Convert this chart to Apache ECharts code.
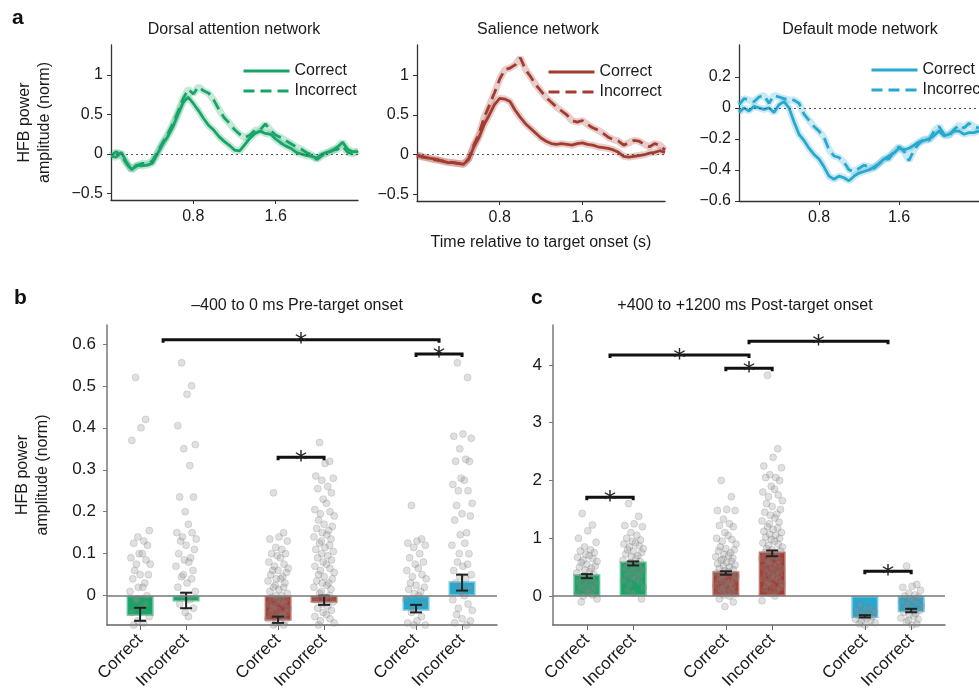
<!DOCTYPE html>
<html><head><meta charset="utf-8">
<script src="https://cdn.jsdelivr.net/npm/echarts@6/dist/echarts.min.js"></script>
<style>html,body{margin:0;padding:0;background:#fff}#c{width:979px;height:693px}</style>
</head><body><div id="c"></div><script>
// ---------- DATA ----------
const TIME = [0,0.05,0.1,0.15,0.2,0.25,0.3,0.35,0.4,0.45,0.5,0.55,0.6,0.65,0.7,0.75,0.8,0.85,0.9,0.95,1.0,1.05,1.1,1.15,1.2,1.25,1.3,1.35,1.4,1.45,1.5,1.55,1.6,1.65,1.7,1.75,1.8,1.85,1.9,1.95,2.0,2.05,2.1,2.15,2.2,2.25,2.3,2.35,2.4];
const DAN_CORRECT = [-0.03,-0.04,0.02,-0.10,-0.20,-0.14,-0.15,-0.14,-0.12,0.0,0.12,0.22,0.34,0.50,0.65,0.72,0.64,0.55,0.45,0.36,0.30,0.22,0.16,0.11,0.05,0.04,0.12,0.20,0.26,0.29,0.26,0.25,0.19,0.14,0.10,0.07,0.02,0.0,-0.02,-0.03,-0.05,0.0,0.02,0.04,0.09,0.15,0.06,0.03,0.03];
const DAN_INCORRECT = [-0.02,0.03,-0.02,-0.12,-0.20,-0.15,-0.12,-0.12,-0.09,0.02,0.14,0.25,0.38,0.53,0.70,0.82,0.76,0.85,0.80,0.77,0.68,0.56,0.46,0.39,0.31,0.25,0.21,0.24,0.30,0.31,0.38,0.30,0.24,0.21,0.17,0.13,0.09,0.06,0.02,-0.01,-0.07,-0.02,0.01,0.05,0.06,0.10,0.02,0.0,0.04];
const SAL_CORRECT = [0.0,-0.03,-0.04,-0.05,-0.06,-0.08,-0.10,-0.10,-0.11,-0.12,-0.06,0.10,0.22,0.38,0.50,0.63,0.71,0.70,0.67,0.56,0.47,0.39,0.33,0.27,0.21,0.17,0.14,0.13,0.14,0.13,0.12,0.14,0.15,0.13,0.12,0.10,0.09,0.08,0.06,0.03,-0.02,-0.03,-0.02,-0.01,0.0,0.02,0.03,0.05,0.03];
const SAL_INCORRECT = [-0.01,-0.02,-0.04,-0.06,-0.07,-0.08,-0.09,-0.10,-0.11,-0.12,-0.05,0.12,0.26,0.47,0.62,0.78,0.95,1.07,1.09,1.13,1.22,1.07,0.98,0.88,0.80,0.72,0.66,0.60,0.55,0.50,0.43,0.41,0.43,0.38,0.34,0.31,0.27,0.22,0.19,0.17,0.12,0.15,0.18,0.17,0.13,0.10,0.14,0.12,0.06];
const DMN_CORRECT = [-0.03,0.0,-0.02,0.01,0.0,-0.01,0.0,-0.03,0.02,0.04,0.0,-0.09,-0.17,-0.21,-0.26,-0.30,-0.33,-0.38,-0.44,-0.46,-0.44,-0.45,-0.47,-0.44,-0.42,-0.41,-0.40,-0.38,-0.36,-0.33,-0.31,-0.29,-0.26,-0.27,-0.26,-0.24,-0.22,-0.21,-0.20,-0.18,-0.15,-0.18,-0.17,-0.15,-0.15,-0.17,-0.16,-0.16,-0.15];
const DMN_INCORRECT = [0.02,0.06,0.05,0.04,0.07,0.08,0.03,0.08,0.07,0.06,0.05,0.05,0.03,-0.04,-0.08,-0.12,-0.15,-0.19,-0.27,-0.31,-0.32,-0.35,-0.40,-0.41,-0.39,-0.37,-0.38,-0.39,-0.36,-0.33,-0.33,-0.28,-0.25,-0.28,-0.34,-0.27,-0.23,-0.20,-0.21,-0.15,-0.12,-0.17,-0.18,-0.14,-0.11,-0.13,-0.10,-0.12,-0.13];

const TOP_TITLES = ['Dorsal attention network','Salience network','Default mode network'];
const CONDITIONS = ['Correct','Incorrect'];
const TOP_Y_TICKS = [[-0.5,0,0.5,1],[-0.5,0,0.5,1],[-0.6,-0.4,-0.2,0,0.2]];
const TOP_X_TICKS = [0.8,1.6];

const CATEGORY_LABELS = ['Correct','Incorrect','Correct','Incorrect','Correct','Incorrect'];
const CATEGORY_SLOTS = [0,1,3,4,6,7];
const CATEGORY_NET = [0,0,1,1,2,2];

const PRE_MEAN = [-0.048,-0.014,-0.060,-0.017,-0.036,0.034];
const PRE_ERR_LOW = [-0.060,-0.030,-0.065,-0.022,-0.040,0.012];
const PRE_ERR_HIGH = [-0.029,0.007,-0.050,0.000,-0.022,0.050];
const POST_MEAN = [0.38,0.60,0.43,0.77,-0.38,-0.28];
const POST_ERR_LOW = [0.31,0.53,0.37,0.69,-0.37,-0.28];
const POST_ERR_HIGH = [0.38,0.60,0.43,0.79,-0.33,-0.22];

const PRE_DAN_C = [0.52,0.42,0.40,0.37,0.155,0.14,0.13,0.125,0.12,0.10,0.10,0.09,0.085,0.075,0.075,0.06,0.05,0.05,0.04,0.03,0.02,0.02,0.01,0.0,-0.01,-0.01,-0.02,-0.03,-0.04,-0.05,-0.06,-0.065,-0.07];
const PRE_DAN_I = [0.555,0.50,0.48,0.405,0.36,0.35,0.31,0.235,0.235,0.20,0.17,0.15,0.15,0.14,0.135,0.13,0.12,0.11,0.10,0.09,0.085,0.08,0.07,0.06,0.05,0.045,0.04,0.03,0.02,0.01,0.0,-0.01,-0.02,-0.03,-0.04,-0.05];
const PRE_SAL_C = [0.245,0.15,0.14,0.135,0.13,0.115,0.11,0.10,0.10,0.095,0.09,0.08,0.075,0.07,0.065,0.06,0.06,0.055,0.05,0.045,0.04,0.04,0.035,0.03,0.025,0.02,0.02,0.015,0.01,0.005,0.0,0.0,-0.005,-0.01,-0.01,-0.015,-0.02,-0.02,-0.025,-0.03,-0.03,-0.035,-0.04,-0.04,-0.045,-0.05,-0.05,-0.055,-0.06,-0.065,-0.07,-0.07];
const PRE_SAL_I = [0.365,0.32,0.315,0.285,0.28,0.275,0.26,0.255,0.245,0.23,0.22,0.205,0.20,0.195,0.19,0.18,0.17,0.165,0.16,0.155,0.15,0.145,0.14,0.135,0.13,0.125,0.12,0.115,0.11,0.105,0.10,0.095,0.09,0.085,0.08,0.075,0.07,0.065,0.06,0.055,0.05,0.045,0.04,0.035,0.03,0.03,0.025,0.02,0.015,0.01,0.005,0.0,-0.005,-0.01,-0.015,-0.02,-0.025,-0.03,-0.035,-0.04,-0.045,-0.05,-0.055,-0.06,-0.065,-0.07];
const PRE_DMN_C = [0.215,0.135,0.13,0.125,0.12,0.115,0.10,0.09,0.08,0.075,0.065,0.06,0.05,0.045,0.04,0.03,0.025,0.02,0.015,0.01,0.005,0.0,-0.01,-0.02,-0.03,-0.04,-0.05,-0.06,-0.065,-0.07,-0.07];
const PRE_DMN_I = [0.555,0.52,0.385,0.38,0.375,0.35,0.325,0.32,0.32,0.28,0.275,0.265,0.25,0.25,0.22,0.215,0.195,0.19,0.18,0.15,0.145,0.125,0.12,0.10,0.10,0.08,0.075,0.07,0.06,0.05,0.045,0.04,0.03,0.02,0.01,0.0,-0.01,-0.02,-0.03,-0.035,-0.045,-0.055,-0.06,-0.065,-0.07];

const POST_DAN_C = [1.43,1.23,1.13,1.0,0.93,0.85,0.8,0.78,0.75,0.72,0.7,0.67,0.65,0.62,0.6,0.58,0.55,0.52,0.5,0.48,0.45,0.42,0.4,0.38,0.35,0.32,0.3,0.28,0.25,0.22,0.2,0.17,0.15,0.12,0.1,0.07,0.05,0.02,0.0,-0.05,-0.1];
const POST_DAN_I = [1.6,1.38,1.25,1.22,1.2,1.1,1.05,1.0,0.97,0.95,0.92,0.9,0.87,0.85,0.82,0.8,0.78,0.75,0.73,0.7,0.68,0.65,0.62,0.6,0.58,0.55,0.52,0.5,0.48,0.45,0.42,0.4,0.37,0.35,0.32,0.3,0.27,0.25,0.2,0.15,0.1,0.05,-0.05];
const POST_SAL_C = [2.0,1.72,1.5,1.48,1.48,1.33,1.25,1.22,1.2,1.1,1.05,1.0,0.98,0.95,0.9,0.85,0.82,0.8,0.78,0.75,0.72,0.7,0.68,0.66,0.64,0.62,0.6,0.58,0.56,0.54,0.52,0.5,0.48,0.46,0.44,0.42,0.4,0.38,0.36,0.34,0.32,0.3,0.28,0.26,0.24,0.22,0.2,0.18,0.16,0.14,0.12,0.1,0.08,0.06,0.04,0.02,0.0,-0.05,-0.1,-0.18];
const POST_SAL_I = [3.82,2.55,2.4,2.25,2.22,2.1,2.05,2.05,2.0,1.9,1.85,1.8,1.75,1.72,1.65,1.6,1.55,1.5,1.45,1.42,1.4,1.35,1.3,1.28,1.25,1.2,1.18,1.15,1.12,1.1,1.07,1.05,1.02,1.0,0.98,0.95,0.92,0.9,0.88,0.85,0.82,0.8,0.78,0.75,0.72,0.7,0.68,0.65,0.62,0.6,0.58,0.55,0.52,0.5,0.48,0.45,0.42,0.4,0.38,0.35,0.32,0.3,0.28,0.25,0.22,0.2,0.18,0.15,0.12,0.1,0.05,0.0,-0.08];
const POST_DMN_C = [-0.15,-0.2,-0.22,-0.25,-0.27,-0.3,-0.32,-0.33,-0.35,-0.36,-0.38,-0.4,-0.42,-0.44,-0.46,-0.48,-0.5];
const POST_DMN_I = [0.52,0.2,0.17,0.15,0.1,0.05,0.02,0.0,-0.02,-0.05,-0.08,-0.1,-0.12,-0.15,-0.17,-0.2,-0.22,-0.25,-0.28,-0.3,-0.32,-0.35,-0.38,-0.4,-0.42,-0.45,-0.48,-0.5];

// significance brackets: [from slot, to slot, height]
const PRE_SIG = [[0.5,6.5,0.61],[6,7,0.576],[3,4,0.33]];
const POST_SIG = [[0.5,3.5,4.17],[3.5,6.5,4.41],[3,4,3.94],[0,1,1.71],[6,7,0.43]];
const PRE_Y_TICKS = [0,0.1,0.2,0.3,0.4,0.5,0.6];
const POST_Y_TICKS = [0,1,2,3,4];

// ---------- STYLE / LAYOUT ----------
const FONT = 'Liberation Sans, Arial, Helvetica, sans-serif';
const INK = '#1a1a1a';
const NET_COLORS = ['#17a567','#a23c31','#27a8cf'];
const NET_EDGE = ['#63c697','#c27a71','#74c8e4'];
const JITTER = [-0.10,0.12,0.02,-0.18,0.20,-0.05,0.08,-0.14,0.16,-0.02,0.05,-0.20,0.13,-0.08,0.22,-0.12,0.0,0.18,-0.16,0.10,-0.04,0.06,-0.22,0.15,-0.06];

const TOP_SERIES = [[DAN_CORRECT,DAN_INCORRECT],[SAL_CORRECT,SAL_INCORRECT],[DMN_CORRECT,DMN_INCORRECT]];
const TOP_LAYOUT = [
  {left:111, top:45, width:247, height:155, ymin:-0.582, ymax:1.38, legendLeft:237, legendTop:58, cx:234},
  {left:417, top:45, width:248, height:156, ymin:-0.582, ymax:1.38, legendLeft:542, legendTop:59, cx:538},
  {left:739, top:45, width:247, height:156, ymin:-0.6, ymax:0.405, legendLeft:865, legendTop:57, cx:860}
];
const BOTTOM_LAYOUT = [
  {left:107, top:325, width:390, height:300, ymin:-0.07, ymax:0.645, xmin:-0.72, xmax:7.76,
   mean:PRE_MEAN, lo:PRE_ERR_LOW, hi:PRE_ERR_HIGH, pts:[PRE_DAN_C,PRE_DAN_I,PRE_SAL_C,PRE_SAL_I,PRE_DMN_C,PRE_DMN_I], sig:PRE_SIG, ticks:PRE_Y_TICKS},
  {left:553, top:325, width:392, height:300, ymin:-0.5, ymax:4.69, xmin:-0.73, xmax:7.73,
   mean:POST_MEAN, lo:POST_ERR_LOW, hi:POST_ERR_HIGH, pts:[POST_DAN_C,POST_DAN_I,POST_SAL_C,POST_SAL_I,POST_DMN_C,POST_DMN_I], sig:POST_SIG, ticks:POST_Y_TICKS}
];

function fmt(v){ return v < 0 ? '\u2212' + String(Math.abs(v)) : String(v); }

const grid = [], xAxis = [], yAxis = [], series = [], legend = [];

TOP_LAYOUT.forEach((L, i) => {
  grid.push({left:L.left, top:L.top, width:L.width, height:L.height});
  xAxis.push({
    gridIndex:i, type:'value', min:0, max:2.4,
    axisLine:{show:true, onZero:false, lineStyle:{color:'#333', width:1.3}},
    axisTick:{show:true, customValues:TOP_X_TICKS, length:4, lineStyle:{color:'#333'}},
    axisLabel:{customValues:TOP_X_TICKS, formatter:v=>v.toFixed(1), fontSize:16, color:INK, margin:9, fontFamily:FONT},
    splitLine:{show:false},
    name: i===1 ? 'Time relative to target onset (s)' : '',
    nameLocation:'middle', nameGap:34, nameTextStyle:{fontSize:16, color:INK, fontFamily:FONT}
  });
  yAxis.push({
    gridIndex:i, type:'value', min:L.ymin, max:L.ymax,
    axisLine:{show:true, onZero:false, lineStyle:{color:'#333', width:1.3}},
    axisTick:{show:true, customValues:TOP_Y_TICKS[i], length:4, lineStyle:{color:'#333'}},
    axisLabel:{customValues:TOP_Y_TICKS[i], formatter:fmt, fontSize:16, color:INK, margin:8, fontFamily:FONT},
    splitLine:{show:false},
    name: i===0 ? 'HFB power\namplitude (norm)' : '',
    nameLocation:'middle', nameGap:56, nameTextStyle:{fontSize:16, color:INK, lineHeight:20, fontFamily:FONT}
  });
  const color = NET_COLORS[i];
  TOP_SERIES[i].forEach((vals, j) => {
    const data = TIME.map((t, k) => [t, vals[k]]);
    series.push({
      type:'line', name:'band'+i+j, xAxisIndex:i, yAxisIndex:i, data, symbol:'none', silent:true,
      lineStyle:{color, width:7, opacity:0.25}, z:1, animation:false
    });
  });
  TOP_SERIES[i].forEach((vals, j) => {
    const data = TIME.map((t, k) => [t, vals[k]]);
    const s = {
      type:'line', name:CONDITIONS[j]+'|'+i, xAxisIndex:i, yAxisIndex:i, data, symbol:'none',
      itemStyle:{color},
      lineStyle:{color, width:2.8, type: j===0 ? 'solid' : [11,6]}, z:3, animation:false
    };
    if (j === 0) s.markLine = {silent:true, symbol:'none', label:{show:false}, animation:false,
      lineStyle:{type:[2,3], color:'#555', width:1.1}, data:[{yAxis:0}]};
    series.push(s);
  });
  legend.push({
    left:L.legendLeft, top:L.legendTop, orient:'vertical', itemWidth:46, itemHeight:14, itemGap:4,
    selectedMode:false, data:CONDITIONS.map(c => c+'|'+i),
    formatter:n => n.split('|')[0],
    lineStyle:{width:3},
    itemStyle:{opacity:0, borderWidth:0},
    textStyle:{fontSize:16, color:INK, fontFamily:FONT}
  });
});

BOTTOM_LAYOUT.forEach((L, b) => {
  const gi = 3 + b;
  grid.push({left:L.left, top:L.top, width:L.width, height:L.height});
  xAxis.push({
    gridIndex:gi, type:'value', min:L.xmin, max:L.xmax,
    axisLine:{show:true, onZero:false, lineStyle:{color:'#666', width:1.5}},
    axisTick:{show:true, customValues:CATEGORY_SLOTS, length:5, lineStyle:{color:'#666'}},
    axisLabel:{customValues:CATEGORY_SLOTS, formatter:v => CATEGORY_LABELS[CATEGORY_SLOTS.indexOf(v)],
      rotate:45, fontSize:17, color:INK, margin:12, fontFamily:FONT},
    splitLine:{show:false}
  });
  yAxis.push({
    gridIndex:gi, type:'value', min:L.ymin, max:L.ymax,
    axisLine:{show:true, onZero:false, lineStyle:{color:'#777', width:1.5}},
    axisTick:{show:true, customValues:L.ticks, length:4, lineStyle:{color:'#777'}},
    axisLabel:{customValues:L.ticks, formatter:fmt, fontSize:17, color:INK, margin:11, fontFamily:FONT},
    splitLine:{show:false},
    name: b===0 ? 'HFB power\namplitude (norm)' : '',
    nameLocation:'middle', nameGap:54, nameTextStyle:{fontSize:16, color:INK, lineHeight:20, fontFamily:FONT}
  });
  series.push({
    type:'bar', xAxisIndex:gi, yAxisIndex:gi, barWidth:27, z:2, animation:false, silent:true,
    data: L.mean.map((m, c) => ({value:[CATEGORY_SLOTS[c], m],
      itemStyle:{color:NET_COLORS[CATEGORY_NET[c]], borderColor:NET_EDGE[CATEGORY_NET[c]], borderWidth:1.5}})),
    markLine:{silent:true, symbol:'none', label:{show:false}, animation:false,
      lineStyle:{type:'solid', color:'#777', width:1.5}, data:[{yAxis:0}]}
  });
  const pts = [];
  L.pts.forEach((arr, c) => arr.forEach((v, k) => pts.push([CATEGORY_SLOTS[c] + JITTER[k % JITTER.length], v])));
  series.push({
    type:'scatter', xAxisIndex:gi, yAxisIndex:gi, data:pts, symbolSize:7, z:3, animation:false, silent:true,
    itemStyle:{color:'rgba(145,145,145,0.35)', borderColor:'rgba(110,110,110,0.32)', borderWidth:0.8}
  });
  series.push({
    type:'custom', xAxisIndex:gi, yAxisIndex:gi, z:4, animation:false, silent:true,
    encode:{x:0, y:[1,2]},
    data: L.lo.map((lo, c) => [CATEGORY_SLOTS[c], lo, L.hi[c]]),
    renderItem:(params, api) => {
      const a = api.coord([api.value(0), api.value(1)]);
      const h = api.coord([api.value(0), api.value(2)]);
      const w = 6, st = {stroke:'#222', lineWidth:2};
      return {type:'group', children:[
        {type:'line', shape:{x1:a[0], y1:a[1], x2:h[0], y2:h[1]}, style:st},
        {type:'line', shape:{x1:a[0]-w, y1:a[1], x2:a[0]+w, y2:a[1]}, style:st},
        {type:'line', shape:{x1:h[0]-w, y1:h[1], x2:h[0]+w, y2:h[1]}, style:st}
      ]};
    }
  });
  series.push({
    type:'custom', xAxisIndex:gi, yAxisIndex:gi, z:5, animation:false, silent:true,
    encode:{x:[0,1], y:2},
    data:L.sig,
    renderItem:(params, api) => {
      const p1 = api.coord([api.value(0), api.value(2)]);
      const p2 = api.coord([api.value(1), api.value(2)]);
      return {type:'group', children:[
        {type:'polyline', shape:{points:[[p1[0],p1[1]+3],[p1[0],p1[1]],[p2[0],p2[1]],[p2[0],p2[1]+3]]},
          style:{stroke:'#111', lineWidth:3, fill:null}},
        {type:'text', x:(p1[0]+p2[0])/2, y:p1[1] + 4,
          style:{text:'*', align:'center', verticalAlign:'middle', fontSize:25, fill:'#222', fontFamily:'DejaVu Sans, sans-serif'}}
      ]};
    }
  });
});

const graphic = [];
TOP_LAYOUT.forEach((L, i) => graphic.push({type:'text', x:L.cx, y:30,
  style:{text:TOP_TITLES[i], align:'center', verticalAlign:'middle', fontSize:16, fill:INK, fontFamily:FONT}}));
graphic.push({type:'text', x:297, y:306, style:{text:'\u2013400 to 0 ms Pre-target onset', align:'center', verticalAlign:'middle', fontSize:16, fill:INK, fontFamily:FONT}});
graphic.push({type:'text', x:745, y:306, style:{text:'+400 to +1200 ms Post-target onset', align:'center', verticalAlign:'middle', fontSize:16, fill:INK, fontFamily:FONT}});
[['a',12,18],['b',14,298],['c',531,298]].forEach(([t,x,y]) => graphic.push({type:'text', x, y,
  style:{text:t, align:'left', verticalAlign:'middle', fontSize:21, fontWeight:'bold', fill:'#111', fontFamily:FONT}}));

const chart = echarts.init(document.getElementById('c'), null, {renderer:'canvas'});
chart.setOption({
  animation:false,
  backgroundColor:'#fff',
  textStyle:{fontFamily:FONT},
  grid, xAxis, yAxis, series, legend, graphic
});
</script></body></html>
